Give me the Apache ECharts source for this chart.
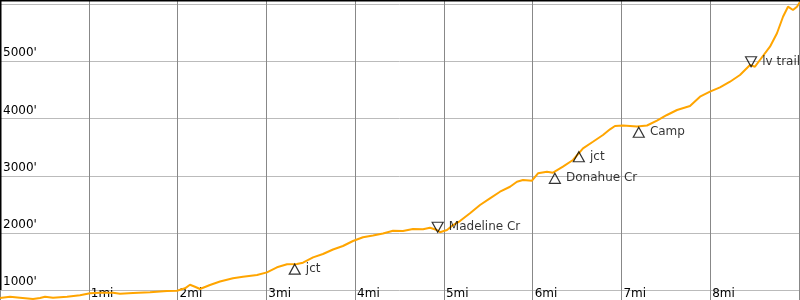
<!DOCTYPE html>
<html>
<head>
<meta charset="utf-8">
<script src="https://cdn.jsdelivr.net/npm/echarts@6/dist/echarts.min.js"></script>
<style>
html,body{margin:0;padding:0;background:#fff;}
#chart{width:800px;height:300px;}
</style>
</head>
<body>
<div id="chart"></div>
<script>
// Profile: distance (mi) and elevation (ft)
const profileMi = [0.00,0.113,0.225,0.372,0.451,0.507,0.597,0.755,0.901,1.014,1.126,1.273,1.352,1.498,1.690,1.881,1.994,2.084,2.140,2.196,2.253,2.365,2.478,2.624,2.737,2.895,3.007,3.120,3.233,3.345,3.413,3.526,3.638,3.751,3.863,3.976,4.089,4.201,4.314,4.427,4.539,4.652,4.765,4.843,4.922,4.956,5.035,5.103,5.181,5.294,5.407,5.519,5.632,5.745,5.823,5.891,5.992,6.060,6.161,6.229,6.341,6.454,6.567,6.679,6.792,6.871,6.927,7.017,7.175,7.288,7.400,7.513,7.626,7.772,7.885,7.997,8.110,8.223,8.335,8.448,8.504,8.560,8.673,8.752,8.820,8.876,8.932,8.977,9.011];
const profileFt = [866,888,871,848,866,888,871,888,913,948,958,958,941,953,965,988,993,1035,1098,1063,1023,1093,1154,1210,1238,1267,1314,1402,1454,1459,1482,1576,1634,1713,1774,1861,1926,1957,1992,2041,2036,2071,2065,2092,2053,2013,2053,2140,2210,2345,2490,2607,2722,2809,2897,2926,2914,3043,3071,3054,3159,3276,3480,3595,3712,3812,3870,3878,3861,3878,3962,4062,4149,4219,4381,4469,4545,4643,4760,4935,4905,5022,5255,5489,5778,5953,5895,5953,6035];

// Waypoints
const waypointNames = ["jct","Madeline Cr","Donahue Cr","jct","Camp","lv trail"];
const waypointMi = [3.32,4.93,6.25,6.52,7.195,8.46];
const waypointFt = [1457,2015,3043,3420,3847,4905];
const waypointDir = ["up","down","up","up","up","down"];

// Axis ranges
const xMin = 0, xMax = 9, xTickStep = 1;   // miles
const yMin = 831, yMax = 6070;              // feet (visible window)

const chart = echarts.init(document.getElementById('chart'), null, {renderer:'canvas'});

const lineData = profileMi.map((m,i)=>[m, profileFt[i]]);
const wpData = waypointMi.map((m,i)=>{
  const down = waypointDir[i]==='down';
  return {
    name: waypointNames[i],
    value: [m, waypointFt[i]],
    symbolRotate: down ? 180 : 0,
    symbolOffset: down ? [0,-5] : [0,5]
  };
});

const font = 'DejaVu Sans';

chart.setOption({
  animation:false,
  backgroundColor:'#fff',
  grid:{left:0, top:0, right:1, bottom:0, containLabel:false, outerBoundsMode:'none'},
  xAxis:{
    type:'value', min:xMin, max:xMax, interval:xTickStep,
    axisLine:{show:false}, axisTick:{show:false},
    splitLine:{show:true, lineStyle:{color:'#888', width:1}},
    axisLabel:{
      inside:true, margin:0, align:'left', padding:[0,0,0,2],
      showMinLabel:false, showMaxLabel:false,
      color:'#000', fontSize:12, fontFamily:font,
      formatter:(v)=> v + 'mi'
    }
  },
  yAxis:{
    type:'value', min:yMin, max:yMax, splitNumber:5,
    axisLine:{show:false}, axisTick:{show:false},
    splitLine:{show:true, lineStyle:{color:'#bbb', width:1}},
    axisLabel:{
      inside:true, margin:3, align:'left', verticalAlign:'bottom', padding:[0,0,2,0],
      showMinLabel:false, showMaxLabel:false,
      color:'#000', fontSize:12, fontFamily:font,
      formatter:(v)=> v + "'"
    }
  },
  graphic:[
    {type:'rect', shape:{x:0,y:0,width:800,height:1.5}, style:{fill:'#000'}, z:100},
    {type:'rect', shape:{x:0,y:0,width:1.5,height:290}, style:{fill:'#000'}, z:100}
  ],
  series:[
    {
      type:'line', data:lineData, showSymbol:false, smooth:false,
      lineStyle:{color:'#ffa500', width:2}, z:2
    },
    {
      type:'scatter', data:wpData, symbol:'triangle', symbolSize:[11,10],
      itemStyle:{color:'rgba(0,0,0,0)', borderColor:'#000', borderWidth:1.2},
      label:{show:true, position:'right', distance:5, formatter:'{b}', color:'#000', fontSize:12, fontFamily:font},
      z:5
    }
  ]
});
</script>
</body>
</html>
